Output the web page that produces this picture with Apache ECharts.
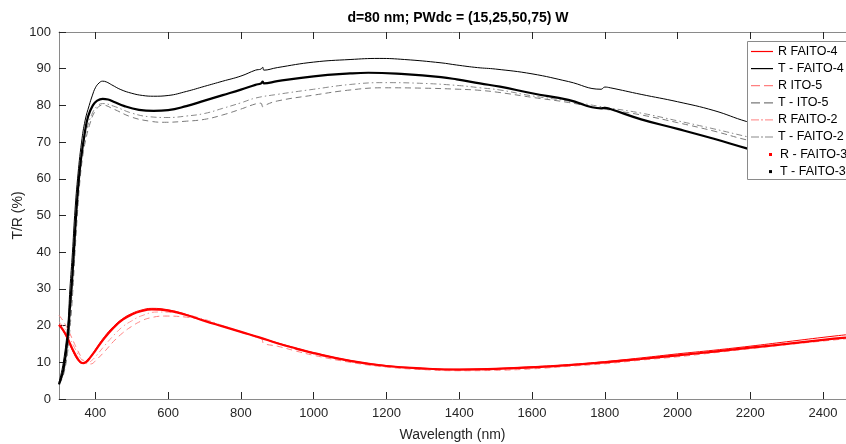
<!DOCTYPE html>
<html>
<head>
<meta charset="utf-8">
<script src="https://cdn.jsdelivr.net/npm/echarts@6/dist/echarts.min.js"></script>
<style>html,body{margin:0;padding:0;background:#fff}#c{width:846px;height:444px}</style>
</head>
<body>
<div id="c"></div>
<script>
const chartTitle = 'd=80 nm; PWdc = (15,25,50,75) W';
const xName = 'Wavelength (nm)';
const yName = 'T/R (%)';
const xTicks = [400, 600, 800, 1000, 1200, 1400, 1600, 1800, 2000, 2200, 2400];
const xMin = 300, xMax = 2463;

const seriesNames = ['R FAITO-4', 'T - FAITO-4', 'R ITO-5', 'T - ITO-5', 'R FAITO-2', 'T - FAITO-2', 'R - FAITO-3', 'T - FAITO-3'];

// T - FAITO-4
const wlTF4 = [300,312,324,330,337,343,351,362,372,383,392,400,410,420,430,445,470,500,530,560,600,650,700,750,800,840,855,860,863,900,1000,1100,1180,1250,1350,1393,1450,1500,1600,1700,1790,1800,1815,1900,2000,2100,2190,2300,2400,2463];
const valTF4 = [4.5,10,20,30,40,50,60,70,76,80,82.8,84.8,86.1,86.6,86.4,85.6,84.3,83.3,82.7,82.5,82.7,83.8,85.2,86.6,88.0,89.6,89.9,90.4,89.6,90.3,91.8,92.5,92.8,92.5,91.6,91.0,90.3,89.9,88.6,86.5,84.4,85.0,84.8,83.0,81.0,78.6,75.6,72.8,70.2,68.5];

// T - FAITO-3
const wlTF3 = [300,312,324,330,337,345,352,360,370,380,393,405,420,435,450,480,520,560,600,650,700,750,800,840,855,860,863,900,1000,1100,1150,1250,1350,1393,1457,1512,1600,1700,1790,1800,1815,1900,2000,2100,2190,2300,2400,2463];
const valTF3 = [4.0,8,17,25,34,47,57,65,72,77,80,81.3,81.8,81.6,81.0,79.8,78.8,78.5,78.7,79.8,81.3,82.8,84.3,85.6,86.0,86.5,86.0,86.6,87.9,88.7,88.9,88.5,87.7,87.1,86.0,85.1,83.3,81.5,79.2,79.3,79.0,76.2,73.6,70.9,68.3,65.5,63.0,61.5];

// T - ITO-5
const wlTI5 = [300,312,324,330,337,344,351,358,365,372,385,400,420,450,500,550,590,650,700,750,800,840,855,860,865,900,1000,1100,1190,1300,1400,1457,1512,1600,1700,1787,1900,2000,2100,2190,2300,2400,2463];
const valTI5 = [4.0,6.5,13,19,28,40,51,60,66,70,75,78.5,80.1,79.0,76.8,75.7,75.4,75.7,76.2,77.4,79.0,80.4,80.6,79.6,80.0,81.2,82.8,84.2,84.8,84.7,84.4,84.1,83.5,82.2,80.8,79.2,77.4,75.3,73.0,70.6,68.3,66.2,65.0];

// T - FAITO-2
const wlTF2 = [300,312,324,330,337,344,351,358,365,375,390,405,420,450,500,550,600,650,700,750,800,840,900,1000,1100,1190,1300,1400,1457,1512,1600,1700,1787,1900,2000,2100,2190,2300,2400,2463];
const valTF2 = [4.5,7,14,21,31,43,54,62,68,73,77.5,79.8,80.5,79.8,77.9,76.9,76.7,77.1,77.8,79.2,80.7,82.0,83.0,84.4,85.7,86.2,86.0,85.4,84.8,84.2,82.6,81.2,79.7,77.9,75.8,73.6,71.5,69.0,67.0,65.8];

// R FAITO-4
const wlRF4 = [300,310,320,330,340,350,360,365,372,380,390,400,425,450,475,500,525,555,600,650,700,750,800,850,900,950,1000,1100,1200,1300,1400,1500,1600,1700,1800,1900,2000,2100,2200,2300,2400,2463];
const valRF4 = [20.0,18.8,17.0,14.8,12.6,10.8,9.8,9.7,10.0,10.9,12.0,13.5,17.0,19.8,21.9,23.3,24.2,24.7,24.3,23.0,21.3,19.8,18.3,16.8,15.3,13.9,12.6,10.5,9.1,8.4,8.1,8.3,8.8,9.4,10.2,11.2,12.3,13.3,14.4,15.6,16.8,17.5];

// R - FAITO-3
const wlRF3 = [300,310,320,330,340,350,360,368,375,385,400,425,450,475,500,525,555,600,650,700,750,800,850,900,950,1000,1100,1200,1300,1400,1500,1600,1700,1800,1900,2000,2100,2200,2300,2400,2463];
const valRF3 = [20.2,19.0,17.3,15.1,13.0,11.2,10.0,9.8,10.1,11.2,13.2,16.6,19.4,21.6,23.0,23.9,24.4,24.1,22.9,21.3,19.8,18.3,16.8,15.2,13.8,12.5,10.4,9.0,8.3,8.0,8.2,8.6,9.2,10.0,10.9,11.9,12.9,14.0,15.0,16.1,16.7];

// R ITO-5
const wlRI5 = [300,310,320,330,340,350,360,370,380,390,400,425,450,475,500,525,550,590,650,700,750,800,850,858,862,900,950,1000,1100,1200,1300,1400,1500,1600,1700,1800,1900,2000,2100,2200,2300,2400,2463];
const valRI5 = [22.8,21.5,19.8,17.8,15.6,13.5,11.6,10.2,9.5,9.6,10.4,12.9,15.7,18.0,19.8,21.2,22.1,22.6,22.3,21.4,19.8,18.2,16.6,16.3,15.2,14.4,13.1,11.9,10.0,8.7,8.0,7.7,7.8,8.2,8.9,9.6,10.6,11.5,12.6,13.7,14.8,15.8,16.4];

// R FAITO-2
const wlRF2 = [300,310,320,330,340,350,360,370,378,390,400,425,450,475,500,525,570,620,700,750,800,850,900,1000,1100,1200,1300,1400,1500,1600,1700,1800,1900,2000,2100,2200,2300,2400,2463];
const valRF2 = [21.0,20.0,18.5,16.5,14.5,12.6,11.0,10.0,9.8,10.5,11.5,14.5,17.3,19.7,21.3,22.6,23.7,23.5,21.7,20.0,18.4,16.8,15.1,12.3,10.2,8.9,8.2,7.9,8.0,8.5,9.1,9.9,10.8,11.8,12.8,13.9,15.0,16.0,16.6];

const pairs = (xs, ys) => xs.map((x, i) => [x, ys[i]]);

const ICON_SOLID = 'path://M0,0h22v1.2h-22z';
const ICON_DASH = 'path://M0,0h9v1.2h-9zM13,0h9v1.2h-9z';
const ICON_DASHDOT = 'path://M0,0h8v1.2h-8zM10,0h2v1.2h-2zM14,0h8v1.2h-8z';

const styles = {
  'R FAITO-4':   {color: '#ff0000', width: 1, type: 'solid', icon: ICON_SOLID},
  'T - FAITO-4': {color: '#000000', width: 1, type: 'solid', icon: ICON_SOLID},
  'R ITO-5':     {color: '#ff8080', width: 1, type: [6, 4], icon: ICON_DASH},
  'T - ITO-5':   {color: '#7a7a7a', width: 1, type: [6, 4], icon: ICON_DASH},
  'R FAITO-2':   {color: '#ff9a9a', width: 1, type: [6, 3, 1.5, 3], icon: ICON_DASHDOT},
  'T - FAITO-2': {color: '#8a8a8a', width: 1, type: [6, 3, 1.5, 3], icon: ICON_DASHDOT},
  'R - FAITO-3': {color: '#ff0000', width: 2.2, type: 'solid', icon: 'rect'},
  'T - FAITO-3': {color: '#000000', width: 2.2, type: 'solid', icon: 'rect'}
};
const seriesData = {
  'R FAITO-4': pairs(wlRF4, valRF4),
  'T - FAITO-4': pairs(wlTF4, valTF4),
  'R ITO-5': pairs(wlRI5, valRI5),
  'T - ITO-5': pairs(wlTI5, valTI5),
  'R FAITO-2': pairs(wlRF2, valRF2),
  'T - FAITO-2': pairs(wlTF2, valTF2),
  'R - FAITO-3': pairs(wlRF3, valRF3),
  'T - FAITO-3': pairs(wlTF3, valTF3)
};

const FONT = 'Liberation Sans, Arial, sans-serif';
const chart = echarts.init(document.getElementById('c'), null, {renderer: 'canvas'});

const series = seriesNames.map(n => ({
  name: n,
  type: 'line',
  data: seriesData[n],
  symbol: 'none',
  showSymbol: false,
  smooth: 0.45,
  clip: true,
  animation: false,
  color: styles[n].color,
  itemStyle: {color: styles[n].color},
  lineStyle: {color: styles[n].color, width: styles[n].width, type: styles[n].type},
  z: 2
}));

const axisCommon = {
  type: 'value',
  min: xMin, max: xMax,
  axisLine: {show: true, lineStyle: {color: '#8a8a8a', width: 1}},
  axisTick: {show: true, inside: true, length: 7, customValues: xTicks, lineStyle: {color: '#262626'}},
  splitLine: {show: false}
};

const legendItems = names => names.map(n => ({
  name: n,
  icon: styles[n].icon,
  itemStyle: {color: styles[n].color, borderColor: styles[n].color, borderWidth: 0, opacity: 1}
}));

chart.setOption({
  animation: false,
  backgroundColor: '#ffffff',
  title: {
    text: chartTitle,
    left: 453, top: 6, textAlign: 'center',
    textStyle: {fontFamily: FONT, fontSize: 14, fontWeight: 'bold', color: '#000'}
  },
  grid: {left: 59, right: 0, top: 32, bottom: 45, containLabel: false, outerBoundsMode: 'none'},
  xAxis: [
    Object.assign({}, axisCommon, {
      position: 'bottom',
      name: xName, nameLocation: 'middle', nameGap: 29, nameMoveOverlap: false,
      nameTextStyle: {fontFamily: FONT, fontSize: 14, color: '#262626'},
      axisLabel: {show: true, customValues: xTicks, margin: 8, fontFamily: FONT, fontSize: 13, color: '#262626',
                  formatter: v => String(v)}
    }),
    Object.assign({}, axisCommon, {
      position: 'top',
      axisLabel: {show: false}
    })
  ],
  yAxis: {
    type: 'value', min: 0, max: 100, interval: 10,
    name: yName, nameLocation: 'middle', nameGap: 34, nameRotate: 90, nameMoveOverlap: false,
    nameTextStyle: {fontFamily: FONT, fontSize: 14, color: '#262626'},
    axisLine: {show: true, lineStyle: {color: '#8a8a8a', width: 1}},
    axisTick: {show: true, inside: true, length: 7, lineStyle: {color: '#262626'}},
    axisLabel: {margin: 8, fontFamily: FONT, fontSize: 13, color: '#262626'},
    splitLine: {show: false}
  },
  graphic: [{
    type: 'rect', z: 3, silent: true,
    shape: {x: 747.5, y: 41.5, width: 120, height: 138},
    style: {fill: '#ffffff', stroke: '#8a8a8a', lineWidth: 1}
  }],
  legend: [
    {
      data: legendItems(seriesNames.slice(0, 6)),
      orient: 'vertical', left: 751, top: 44.5, padding: 0,
      itemWidth: 22, itemHeight: 14, itemGap: 3.1, symbolKeepAspect: true,
      textStyle: {fontFamily: FONT, fontSize: 12.5, color: '#000', lineHeight: 14},
      selectedMode: false, z: 5
    },
    {
      data: legendItems(seriesNames.slice(6)),
      orient: 'vertical', left: 769, top: 147.5, padding: 0,
      itemWidth: 3, itemHeight: 3, itemGap: 3.1,
      textStyle: {fontFamily: FONT, fontSize: 12.5, color: '#000', lineHeight: 14, padding: [0, 0, 0, 3]},
      selectedMode: false, z: 5
    }
  ],
  series: series
});
</script>
</body>
</html>
